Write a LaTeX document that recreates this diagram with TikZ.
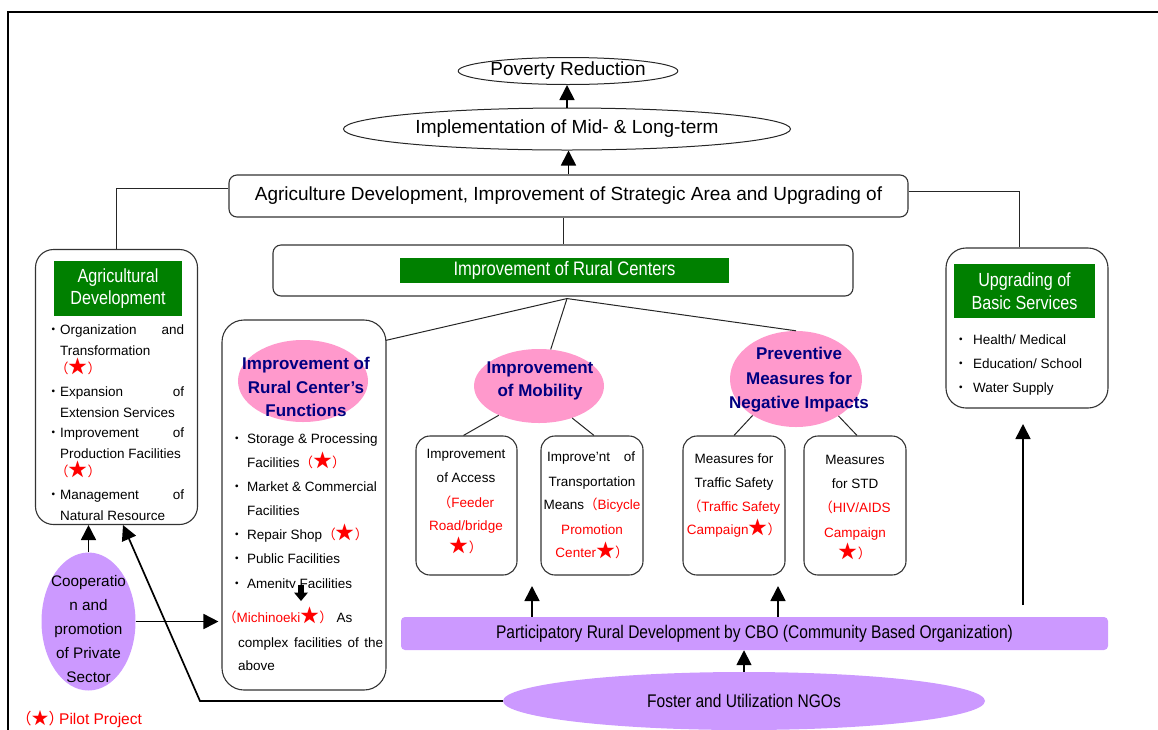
\documentclass[tikz,border=0pt]{standalone}
\usepackage{fontspec}
\setmainfont{Liberation Sans}
\newfontfamily\narrowfont[FakeStretch=0.85]{Liberation Sans}
\newfontfamily\cjkfont{Noto Sans CJK SC}
\usetikzlibrary{shapes.geometric,arrows.meta,calc}

\definecolor{boxgreen}{RGB}{0,128,0}
\definecolor{pinkfill}{RGB}{255,153,204}
\definecolor{lilac}{RGB}{204,153,255}
\definecolor{navyblue}{RGB}{0,0,128}

% full-width brackets, pilot-project star and bullet dot
\newcommand\lpar{{\cjkfont （}}
\newcommand\rpar{{\cjkfont ）}}
\newcommand\pstar{{\cjkfont\fontsize{19}{19}\selectfont ★}}
\newcommand\dotb[1]{\makebox[#1][l]{\cjkfont ・}}
\newcommand\red[1]{\textcolor{red}{#1}}

\tikzset{
  conn/.style={draw=black!85, line width=1pt},
  arr/.style={line width=1.7pt, -{Triangle[width=15pt,length=15pt]}},
  rbox/.style={draw=black!80, line width=1.1pt, rectangle, inner sep=0pt},
  hdr/.style={fill=boxgreen, text=white, inner sep=0pt, align=center,
    font=\narrowfont\fontsize{19}{22.5}\selectfont},
  pinkell/.style={ellipse, fill=pinkfill, inner sep=0pt},
  lilacell/.style={ellipse, fill=lilac, inner sep=0pt},
  smalltxt/.style={inner sep=0pt, font=\fontsize{13.5}{16}\selectfont},
  lw/.style={smalltxt, anchor=base west},
  lc/.style={smalltxt, anchor=base},
  ptitle/.style={inner sep=0pt, anchor=base, text=navyblue,
    font=\bfseries\fontsize{17}{20}\selectfont},
  bigtxt/.style={font=\fontsize{19}{22}\selectfont},
  outline/.style={draw=black!85, line width=1pt},
}

\begin{document}
\begin{tikzpicture}[x=1pt,y=-1pt]
\useasboundingbox (0,0) rectangle (1158,729);

% page frame
\draw[line width=2pt] (8,740) -- (8,12) -- (1170,12);

% ---------- goal chain ----------
\node[ellipse, outline, inner sep=0pt, minimum width=180pt, minimum height=27pt, bigtxt]
  (pov) at (568,71) {Poverty Reduction};
\node[ellipse, outline, inner sep=0pt, minimum width=447pt, minimum height=42pt, bigtxt]
  (impl) at (567,129) {Implementation of Mid- \& Long-term};
\node[rbox, rounded corners=8pt, minimum width=679pt, minimum height=42pt, bigtxt]
  (agri) at (568.5,196) {Agriculture Development, Improvement of Strategic Area and Upgrading of};

% ---------- rural centres ----------
\node[rbox, rounded corners=8pt, minimum width=580pt, minimum height=51pt] (rc) at (563,270.5) {};
\node[hdr, minimum width=329pt, minimum height=25pt, font=\narrowfont\fontsize{19.5}{22}\selectfont]
  (rcbar) at (564.5,270.5) {Improvement of Rural Centers};

% ---------- agricultural development ----------
\node[rbox, rounded corners=18pt, minimum width=162pt, minimum height=275pt] (agdev) at (116.5,387) {};
\node[hdr, minimum width=128pt, minimum height=55pt] (agh) at (118,288.5) {Agricultural\\Development};
\node[lw] (ag1) at (46.5,334) {\dotb{13.5pt}\makebox[124pt][s]{Organization and}};
\node[lw] (ag2) at (60,355) {Transformation};
\node[lw, text=red] (ag3) at (55,373.5) {\lpar\pstar\rpar};
\node[lw] (ag4) at (46.5,396) {\dotb{13.5pt}\makebox[124pt][s]{Expansion of}};
\node[lw] (ag5) at (60,417) {Extension Services};
\node[lw] (ag6) at (46.5,437) {\dotb{13.5pt}\makebox[124pt][s]{Improvement of}};
\node[lw] (ag7) at (60,458) {Production Facilities};
\node[lw, text=red] (ag8) at (55,476.5) {\lpar\pstar\rpar};
\node[lw] (ag9) at (46.5,499) {\dotb{13.5pt}\makebox[124pt][s]{Management of}};
\node[lw] (ag10) at (60,520) {Natural Resource};

% ---------- basic services ----------
\node[rbox, rounded corners=20pt, minimum width=162pt, minimum height=160pt] (ups) at (1027,328) {};
\node[hdr, minimum width=141pt, minimum height=54pt] (upsh) at (1024.5,291) {Upgrading of\\Basic Services};
\node[lw] (up1) at (954,344) {\dotb{19pt}Health/ Medical};
\node[lw] (up2) at (954,368) {\dotb{19pt}Education/ School};
\node[lw] (up3) at (954,392) {\dotb{19pt}Water Supply};

% ---------- rural centre functions ----------
\node[rbox, rounded corners=22pt, minimum width=164pt, minimum height=370pt] (fnbox) at (304,505) {};
\node[pinkell, minimum width=130pt, minimum height=82pt] (fnell) at (303,381) {};
\node[ptitle] (fnt1) at (306,369) {Improvement of};
\node[ptitle] (fnt2) at (306,393) {Rural Center’s};
\node[ptitle] (fnt3) at (306,416) {Functions};
\node[lw] (fn1) at (230,443) {\dotb{17pt}Storage \& Processing};
\node[lw] (fn2) at (247,467) {Facilities\red{\lpar\pstar\rpar}};
\node[lw] (fn3) at (230,491) {\dotb{17pt}Market \& Commercial};
\node[lw] (fn4) at (247,515) {Facilities};
\node[lw] (fn5) at (230,539) {\dotb{17pt}Repair Shop\red{\lpar\pstar\rpar}};
\node[lw] (fn6) at (230,563) {\dotb{17pt}Public Facilities};
\begin{scope}
  \clip (222,566) rectangle (386,587);
  \node[lw] (fn7) at (230,588) {\dotb{17pt}Amenity Facilities};
\end{scope}
% small block arrow leading to the combined facility
\coordinate (amA) at (301,585);
\coordinate (amB) at (301,601);
\fill ($(amA)+(-3,0)$) rectangle ($(amA)+(3,8)$);
\fill ($(amA)+(-7,7.5)$) -- ($(amA)+(7,7.5)$) -- (amB) -- cycle;
\node[lw] (fn8) at (223,622) {\red{\lpar Michinoeki\pstar\rpar}\ As};
\node[lw] (fn9) at (238,647) {\makebox[145pt][s]{complex facilities of the}};
\node[lw] (fn10) at (238,670) {above};

% ---------- mobility ----------
\node[pinkell, minimum width=130pt, minimum height=74pt] (mob) at (539,386) {};
\node[ptitle] (mobt1) at (540,373) {Improvement};
\node[ptitle] (mobt2) at (540,396) {of Mobility};

\node[rbox, rounded corners=14pt, minimum width=101pt, minimum height=139pt] (b1) at (466.5,505.5) {};
\node[lc] (b1t1) at (466,458) {Improvement};
\node[lc] (b1t2) at (466,482) {of Access};
\node[lc, text=red] (b1t3) at (466,507) {\lpar Feeder};
\node[lc, text=red] (b1t4) at (466,530) {Road/bridge};
\node[lc, text=red] (b1t5) at (466,552) {\pstar\rpar};

\node[rbox, rounded corners=14pt, minimum width=102pt, minimum height=139pt] (b2) at (592,505.5) {};
\node[lw] (b2t1) at (547,461) {\makebox[88pt][s]{Improve’nt of}};
\node[lc] (b2t2) at (592,486) {Transportation};
\node[lc] (b2t3) at (592,509) {Means\red{\lpar Bicycle}};
\node[lc, text=red] (b2t4) at (592,534) {Promotion};
\node[lc, text=red] (b2t5) at (592,557) {Center\pstar\rpar};

% ---------- negative impacts ----------
\node[pinkell, minimum width=132pt, minimum height=96pt] (prev) at (796,379) {};
\node[ptitle] (prt1) at (799,359) {Preventive};
\node[ptitle] (prt2) at (799,384) {Measures for};
\node[ptitle] (prt3) at (799,408) {Negative Impacts};

\node[rbox, rounded corners=14pt, minimum width=102pt, minimum height=139pt] (b3) at (734,505.5) {};
\node[lc] (b3t1) at (734,463) {Measures for};
\node[lc] (b3t2) at (734,487) {Traffic Safety};
\node[lc, text=red] (b3t3) at (734,511) {\lpar Traffic Safety};
\node[lc, text=red] (b3t4) at (734,534) {Campaign\pstar\rpar};

\node[rbox, rounded corners=14pt, minimum width=102pt, minimum height=139pt] (b4) at (855,505.5) {};
\node[lc] (b4t1) at (855,464) {Measures};
\node[lc] (b4t2) at (855,488) {for STD};
\node[lc, text=red] (b4t3) at (855,512) {\lpar HIV/AIDS};
\node[lc, text=red] (b4t4) at (855,537) {Campaign};
\node[lc, text=red] (b4t5) at (855,558) {\pstar\rpar};

% ---------- participation base ----------
\node[rectangle, rounded corners=4pt, fill=lilac, inner sep=0pt, minimum width=707pt, minimum height=33pt,
  font=\narrowfont\fontsize{18.3}{22}\selectfont] (cbo) at (754.5,633.5)
  {Participatory Rural Development by CBO (Community Based Organization)};
\node[lilacell, minimum width=482pt, minimum height=58pt, font=\narrowfont\fontsize{18.3}{22}\selectfont]
  (ngo) at (744,701) {Foster and Utilization NGOs};

\node[lilacell, minimum width=94pt, minimum height=138pt] (coop) at (88.5,621.5) {};
\node[lc, font=\fontsize{15.3}{18}\selectfont] (co1) at (88.5,586.5) {Cooperatio};
\node[lc, font=\fontsize{15.3}{18}\selectfont] (co2) at (88.5,610.5) {n and};
\node[lc, font=\fontsize{15.3}{18}\selectfont] (co3) at (88.5,634.5) {promotion};
\node[lc, font=\fontsize{15.3}{18}\selectfont] (co4) at (88.5,658.5) {of Private};
\node[lc, font=\fontsize{15.3}{18}\selectfont] (co5) at (88.5,682.5) {Sector};

% legend
\node[anchor=base west, inner sep=0pt, text=red, font=\fontsize{15.5}{18}\selectfont] (legend) at (16,724)
  {\lpar{\cjkfont\fontsize{17}{17}\selectfont ★}\rpar\hspace{-5pt}Pilot Project};

% ---------- connectors ----------
\coordinate (hub) at ($(rc.south)+(4,2)$);
\draw[conn] (rc.north) -- (rc.north |- agri.south);
\draw[conn] ($(agri.west)+(0,-8)$) -| (agdev.north);
\draw[conn] ($(agri.east)+(0,-5)$) -| ($(ups.north)+(-8,0)$);
\draw[conn] (hub) -- ($(fnbox.north east)+(-1,21)$);
\draw[conn] (hub) -- (mob);
\draw[conn] (hub) -- (prev.north);
\draw[conn] (mob.216) -- ($(b1.north)+(-3,0)$);
\draw[conn] (mob.316) -- ($(b2.north)+(2,0)$);
\draw[conn] (prev.220) -- (b3.north);
\draw[conn] (prev.319) -- ($(b4.north)+(2,0)$);

% ---------- arrows ----------
\coordinate (g1) at (532,586);
\coordinate (g2) at (778,586);
\coordinate (upsTip) at (1023,424);
\coordinate (upsBase) at (1023,605);
\coordinate (bend) at (200,701);
\coordinate (agtip) at ($(agdev.south)+(6.5,0)$);

\draw[arr] (impl.north) -- (impl.north |- pov.south);
\draw[arr] (agri.north) -- (agri.north |- impl.south);
\draw[arr] (cbo.north -| g1) -- (g1);
\draw[arr] (cbo.north -| g2) -- (g2);
\draw[arr] (upsBase) -- (upsTip);
\draw[arr] (ngo.north) -- (ngo.north |- cbo.south);
\draw[arr] (coop.north) -- (coop.north |- agdev.south);
\draw[arr] (coop.east) -- ($(coop.east -| fnbox.west)+(-3,0)$);
\draw[arr] (ngo.west) -- (bend) -- (agtip);
\end{tikzpicture}
\end{document}
